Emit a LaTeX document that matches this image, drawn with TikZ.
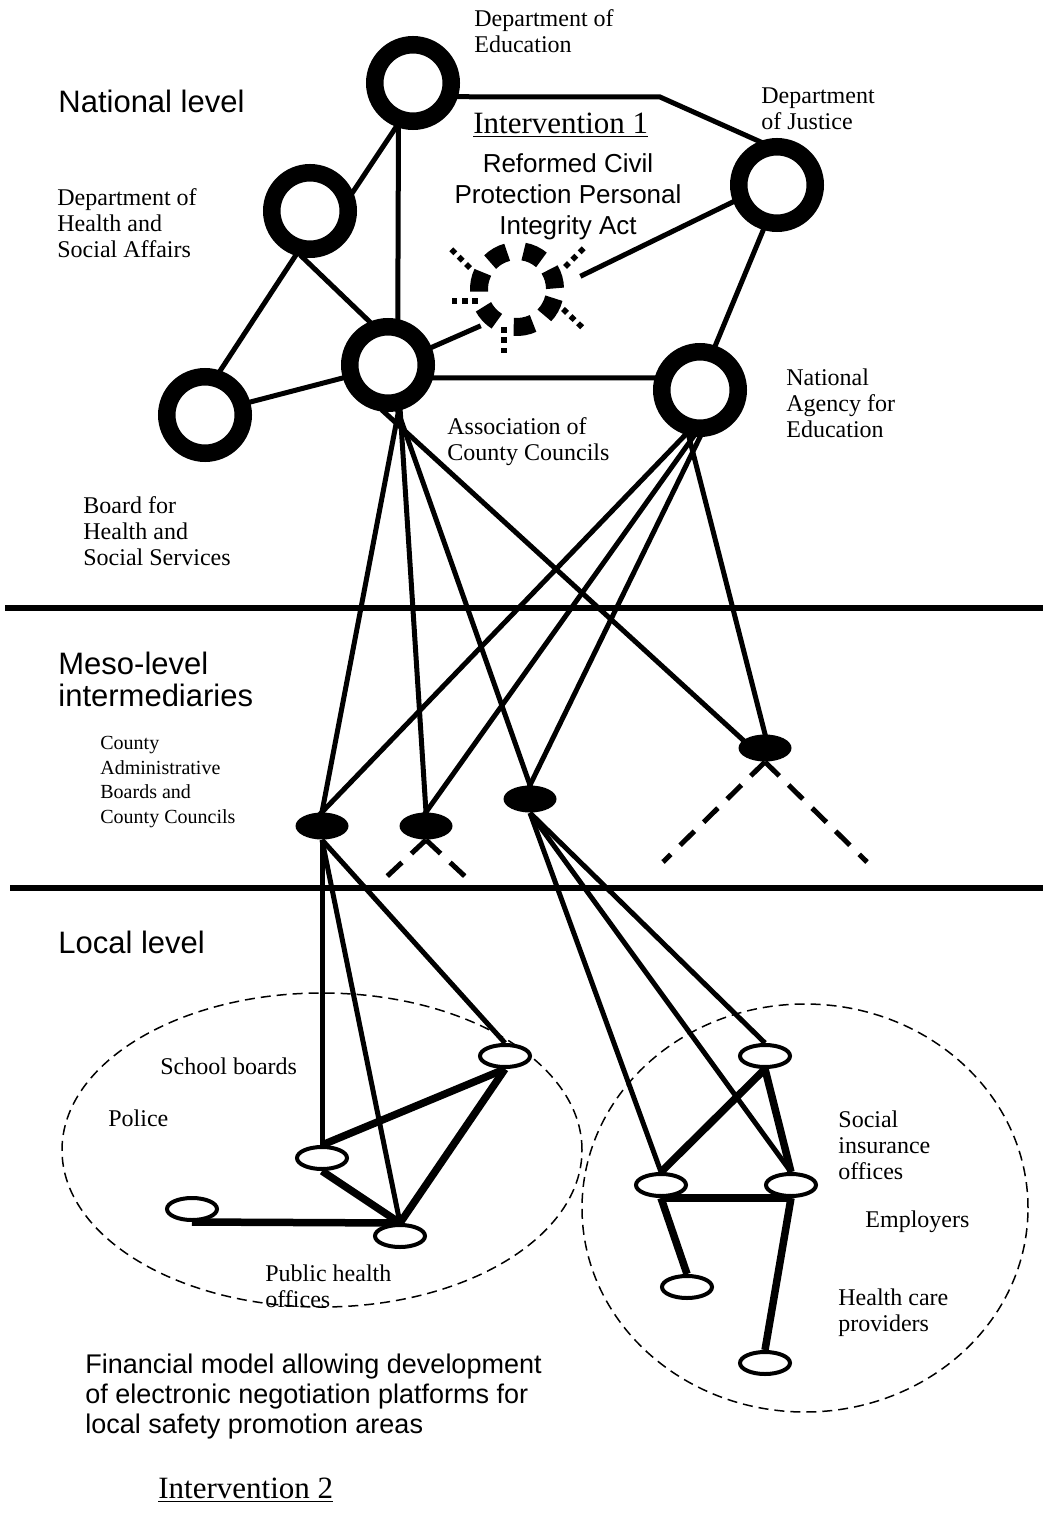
\documentclass[tikz,border=0pt]{standalone}
\usepackage{fontspec}
\setmainfont{Liberation Serif}
\setsansfont{Liberation Sans}
\usetikzlibrary{shapes.geometric}
\begin{document}
\begin{tikzpicture}[x=0.5pt,y=-0.5pt,
  ring/.style={circle,draw,line width=8.75pt,fill=white,inner sep=0pt,minimum size=38.25pt},
  meso/.style={ellipse,fill=black,inner sep=0pt,minimum width=26.5pt,minimum height=13.5pt},
  loc/.style={ellipse,draw,line width=2pt,fill=white,inner sep=0pt,minimum width=25pt,minimum height=11pt},
  conn/.style={line width=2.5pt,shorten <=-1.5pt,shorten >=-1.5pt},
  thin/.style={line width=2.5pt},
  tie/.style={line width=3.75pt},
  dconn/.style={line width=2.5pt,dash pattern=on 10pt off 6.5pt},
  ray/.style={line width=2.8pt,dash pattern=on 2.8pt off 2.4pt},
  divider/.style={line width=2.75pt},
  zone/.style={draw,line width=0.75pt,dash pattern=on 5pt off 3pt},
  serif/.style={font=\fontsize{12}{13}\selectfont,align=left,anchor=west,inner sep=0pt},
  small/.style={font=\fontsize{10}{12.25}\selectfont,align=left,anchor=west,inner sep=0pt},
  head/.style={font=\sffamily\fontsize{15.5}{16}\selectfont,align=left,anchor=west,inner sep=0pt},
  body/.style={font=\sffamily\fontsize{13.5}{15}\selectfont,align=left,anchor=west,inner sep=0pt},
  interv/.style={font=\fontsize{15.5}{17}\selectfont,anchor=west,inner sep=0pt},
]
\useasboundingbox (0,0) rectangle (1043,1519);

% dashed zones
\draw[zone] (322,1150) ellipse [x radius=130pt, y radius=78.5pt];
\draw[zone] (805,1208) ellipse [x radius=111.5pt, y radius=102pt];

% dividers
\draw[divider] (5,608) -- (1043,608);
\draw[divider] (10,888) -- (1043,888);

% national rings
\node[ring] (DE) at (413,83) {};
\node[ring] (HA) at (310,211) {};
\node[ring] (DJ) at (777,185) {};
\node[ring] (As) at (388,365) {};
\node[ring] (NA) at (700,390) {};
\node[ring] (BH) at (205,415) {};

% sun (intervention 1)
\foreach \a in {120,65,16,-29,-80,-137,169}{
  \pgfmathsetmacro{\sa}{\a-15}
  \pgfmathsetmacro{\ea}{\a+15}
  \draw[line width=9pt] (517,289) ++(\sa:19pt) arc[start angle=\sa, end angle=\ea, radius=19pt];
}
\draw[ray] (470,268) -- (451,249);
\draw[ray] (478,301) -- (451,301);
\draw[ray] (504,327) -- (504,354);
\draw[ray] (565,267) -- (584,248);
\draw[ray] (563,309) -- (585,330);

% meso nodes
\node[meso] (M1) at (322,826) {};
\node[meso] (M2) at (426,826) {};
\node[meso] (M3) at (530,799) {};
\node[meso] (M4) at (765,748) {};

% local nodes
\node[loc] (L1) at (505,1056) {};
\node[loc] (L2) at (322,1158) {};
\node[loc] (L3) at (192,1209) {};
\node[loc] (L4) at (400,1236) {};
\node[loc] (R1) at (765,1056) {};
\node[loc] (R2) at (661,1185) {};
\node[loc] (R3) at (791,1185) {};
\node[loc] (R4) at (687,1287) {};
\node[loc] (R5) at (765,1363) {};

\coordinate (bend) at (660,97);
\coordinate (sunW) at (478,327);
\coordinate (sunE) at (583,275);
\coordinate (m2l) at (381,882);
\coordinate (m2r) at (471,882);
\coordinate (m4l) at (663,862);
\coordinate (m4r) at (867,862);

% national connectors
\draw[conn] (DE.-17) -- (bend) -- (DJ.112);
\draw[conn] (DE.-108) -- (As.78);
\draw[conn] (DE.-111) -- (HA.24);
\draw[conn] (HA.-108) -- (BH.71);
\draw[conn] (HA.-99) -- (As.113);
\draw[conn] (BH.16) -- (As.196);
\draw[conn] (As.22) -- (sunW);
\draw[conn] (sunE) -- (DJ.201);
\draw[conn] (DJ.-107) -- (NA.71);
\draw[conn] (As.-16) -- (NA.165);

% national to meso
\draw[conn] (As.-77) -- (M1.north);
\draw[conn] (As.-75) -- (M2.north);
\draw[conn] (As.-78) -- (M3.north);
\draw[conn] (As.-95) -- (M4.160);
\draw[conn] (NA.-108) -- (M1.north);
\draw[conn] (NA.-98) -- (M2.north);
\draw[conn] (NA.-90) -- (M3.north);
\draw[conn] (NA.-104) -- (M4.north);

% meso dashed
\draw[dconn] (M2.south) -- (m2l);
\draw[dconn] (M2.south) -- (m2r);
\draw[dconn] (M4.south) -- (m4l);
\draw[dconn] (M4.south) -- (m4r);

% meso to local
\draw[thin] (M1.south) -- (L2.north);
\draw[thin] (M1.south) -- (L4.north);
\draw[thin] (M1.south) -- (L1.north);
\draw[thin] (M3.south) -- (R1.north);
\draw[thin] (M3.south) -- (R2.north);
\draw[thin] (M3.south) -- (R3.north);

% local ties
\draw[tie] (L2.north) -- (L1.south);
\draw[tie] (L2.south) -- (L4.north);
\draw[tie] (L1.south) -- (L4.north);
\draw[tie] (L3.south) -- (L4.north);
\draw[tie] (R2.north) -- (R1.south);
\draw[tie] (R1.south) -- (R3.north);
\draw[tie] (R2.south) -- (R3.south);
\draw[tie] (R2.south) -- (R4.north);
\draw[tie] (R3.south) -- (R5.north);

% labels
\node[serif] (tDE) at (474,31.5) {Department of\\Education};
\node[head] (tNat) at (58,101) {National level};
\node[interv] (tI1) at (473,125) {\underline{Intervention 1}};
\node[serif] (tDJ) at (761,109) {Department\\of Justice};
\node[serif] (tHA) at (57,223) {Department of\\Health and\\Social Affairs};
\node[font=\sffamily\fontsize{13}{15.5}\selectfont,align=center,inner sep=0pt] (tAct) at (568,197) {Reformed Civil\\Protection Personal\\Integrity Act};
\node[serif] (tNA) at (786,403) {National\\Agency for\\Education};
\node[serif] (tAs) at (447,442) {Association of\\County Councils};
\node[serif] (tBH) at (83,531) {Board for\\Health and\\Social Services};
\node[head] (tMeso) at (58,679) {Meso-level\\intermediaries};
\node[small] (tCounty) at (100,782) {County\\Administrative\\Boards and\\County Councils};
\node[head] (tLoc) at (58,942) {Local level};
\node[serif] (tSchool) at (160,1066) {School boards};
\node[serif] (tPolice) at (108,1118) {Police};
\node[serif] (tPH) at (265,1286) {Public health\\offices};
\node[serif] (tSI) at (838,1145) {Social\\insurance\\offices};
\node[serif] (tEmp) at (865,1222) {Employers};
\node[serif] (tHC) at (838,1313) {Health care\\providers};
\node[body] (tFin) at (85,1397) {Financial model allowing development\\of electronic negotiation platforms for\\local safety promotion areas};
\node[interv] (tI2) at (158,1490) {\underline{Intervention 2}};
\end{tikzpicture}
\end{document}
